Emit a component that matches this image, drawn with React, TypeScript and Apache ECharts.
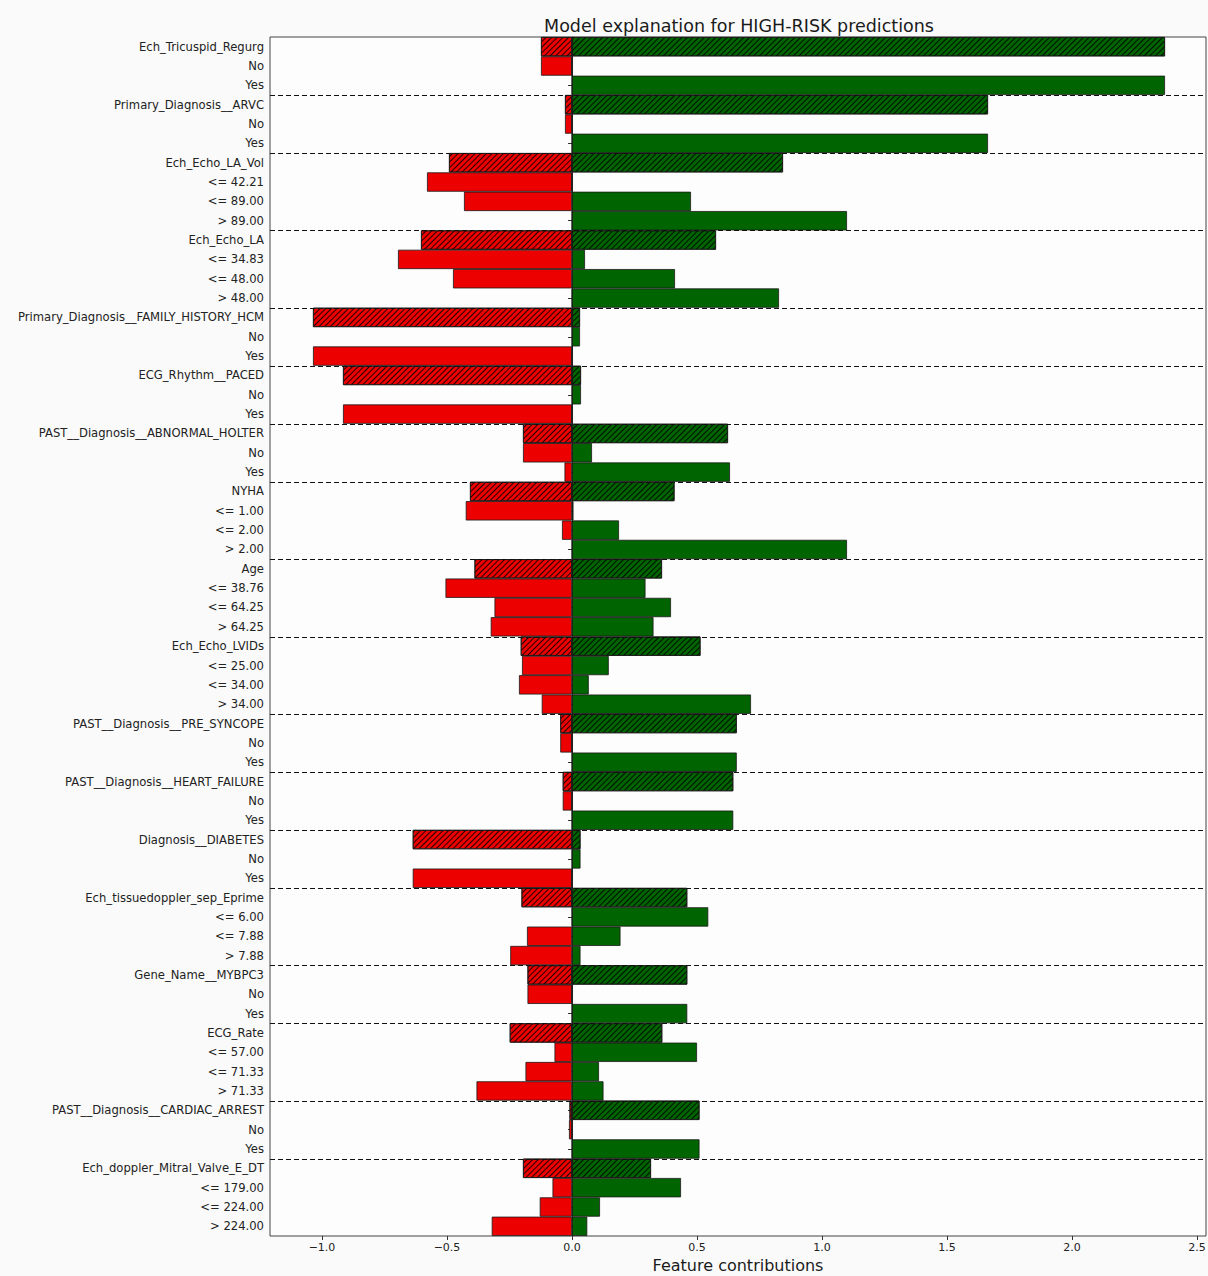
import React, { useEffect, useRef } from 'react';
import * as echarts from 'echarts';

// Row labels, top to bottom: each feature name followed by its value bins.
const rowLabels = [
  'Ech_Tricuspid_Regurg', 'No', 'Yes',
  'Primary_Diagnosis__ARVC', 'No', 'Yes',
  'Ech_Echo_LA_Vol', '<= 42.21', '<= 89.00', '> 89.00',
  'Ech_Echo_LA', '<= 34.83', '<= 48.00', '> 48.00',
  'Primary_Diagnosis__FAMILY_HISTORY_HCM', 'No', 'Yes',
  'ECG_Rhythm__PACED', 'No', 'Yes',
  'PAST__Diagnosis__ABNORMAL_HOLTER', 'No', 'Yes',
  'NYHA', '<= 1.00', '<= 2.00', '> 2.00',
  'Age', '<= 38.76', '<= 64.25', '> 64.25',
  'Ech_Echo_LVIDs', '<= 25.00', '<= 34.00', '> 34.00',
  'PAST__Diagnosis__PRE_SYNCOPE', 'No', 'Yes',
  'PAST__Diagnosis__HEART_FAILURE', 'No', 'Yes',
  'Diagnosis__DIABETES', 'No', 'Yes',
  'Ech_tissuedoppler_sep_Eprime', '<= 6.00', '<= 7.88', '> 7.88',
  'Gene_Name__MYBPC3', 'No', 'Yes',
  'ECG_Rate', '<= 57.00', '<= 71.33', '> 71.33',
  'PAST__Diagnosis__CARDIAC_ARREST', 'No', 'Yes',
  'Ech_doppler_Mitral_Valve_E_DT', '<= 179.00', '<= 224.00', '> 224.00',
];

// Contributions pushing away from the HIGH-RISK class (red, left of zero).
const negativeContrib = [
  -0.124, -0.124, 0,
  -0.028, -0.028, 0,
  -0.492, -0.58, -0.432, 0,
  -0.604, -0.696, -0.476, 0,
  -1.036, 0, -1.036,
  -0.916, 0, -0.916,
  -0.196, -0.196, -0.03,
  -0.408, -0.425, -0.04, 0,
  -0.39, -0.506, -0.31, -0.325,
  -0.205, -0.2, -0.212, -0.121,
  -0.047, -0.047, 0,
  -0.037, -0.037, 0,
  -0.637, 0, -0.637,
  -0.202, 0, -0.18, -0.247,
  -0.178, -0.178, 0,
  -0.249, -0.07, -0.186, -0.382,
  -0.01, -0.012, 0,
  -0.196, -0.078, -0.129, -0.321,
];

// Contributions pushing towards the HIGH-RISK class (green, right of zero).
const positiveContrib = [
  2.372, 0, 2.372,
  1.664, 0, 1.664,
  0.844, 0, 0.476, 1.1,
  0.576, 0.052, 0.412, 0.828,
  0.032, 0.032, 0,
  0.036, 0.036, 0,
  0.624, 0.08, 0.632,
  0.41, 0.006, 0.188, 1.1,
  0.36, 0.294, 0.396, 0.326,
  0.514, 0.147, 0.067, 0.716,
  0.659, 0, 0.659,
  0.645, 0, 0.645,
  0.034, 0.034, 0,
  0.461, 0.545, 0.194, 0.034,
  0.461, 0, 0.461,
  0.361, 0.5, 0.108, 0.126,
  0.51, 0, 0.51,
  0.316, 0.436, 0.112, 0.061,
];

// Indices of the feature-name rows (drawn hatched, each opening a group).
const featureRows = [0, 3, 6, 10, 14, 17, 20, 23, 27, 31, 35, 38, 41, 44, 48, 51, 55, 58];

const FONT = '"DejaVu Sans", sans-serif';

export default function App() {
  const ref = useRef<HTMLDivElement>(null);

  useEffect(() => {
    const chart = echarts.init(ref.current!, null, { renderer: 'svg' });
    const headers = new Set(featureRows);

    // "////" hatching for the feature-name rows
    const hatch = {
      symbol: 'rect',
      symbolSize: 1,
      color: 'rgba(0,0,0,0.85)',
      dashArrayX: [1, 0],
      dashArrayY: [1, 3],
      rotation: -Math.PI / 4,
    };

    const toItems = (vals: number[]) =>
      vals.map((v, i) => (headers.has(i) ? { value: v, itemStyle: { decal: hatch } } : v));

    const separators = featureRows.filter((i) => i > 0).map((i) => [0, i]);

    const barStyle = (color: string) => ({
      color,
      borderColor: '#1a1a1a',
      borderWidth: 0.8,
    });

    chart.setOption({
      animation: false,
      backgroundColor: '#fafafa',
      textStyle: { fontFamily: FONT },
      graphic: [
        {
          type: 'text',
          x: 739,
          y: 26,
          style: {
            text: 'Model explanation for HIGH-RISK predictions',
            align: 'center',
            verticalAlign: 'middle',
            fontSize: 17.5,
            fontFamily: FONT,
            fill: '#1a1a1a',
          },
        },
      ],
      grid: {
        left: 270,
        right: 2,
        top: 37,
        bottom: 40,
        outerBoundsMode: 'none',
        show: true,
        backgroundColor: '#fdfdfd',
        borderColor: '#444',
        borderWidth: 1,
      },
      xAxis: {
        type: 'value',
        min: -1.208,
        max: 2.536,
        splitNumber: 7,
        name: 'Feature contributions',
        nameLocation: 'middle',
        nameGap: 19,
        nameTextStyle: { fontSize: 16, color: '#1a1a1a', fontFamily: FONT },
        axisLine: { lineStyle: { color: '#333', width: 1 } },
        axisTick: { show: true, length: 4, lineStyle: { color: '#333' } },
        splitLine: { show: false },
        axisLabel: {
          fontSize: 11,
          color: '#222',
          fontFamily: FONT,
          margin: 6,
          showMinLabel: false,
          showMaxLabel: false,
          formatter: (v: number) => v.toFixed(1).replace('-', '\u2212'),
        },
      },
      yAxis: {
        type: 'category',
        data: rowLabels,
        inverse: true,
        axisLine: { lineStyle: { color: '#333', width: 1 } },
        axisTick: { show: true, alignWithLabel: true, length: 4, lineStyle: { color: '#333' } },
        axisLabel: {
          interval: 0,
          fontSize: 11.6,
          color: '#222',
          fontFamily: FONT,
          margin: 6,
        },
        splitLine: { show: false },
      },
      series: [
        {
          type: 'bar',
          name: 'negative',
          data: toItems(negativeContrib),
          barWidth: '100%',
          barGap: '-100%',
          itemStyle: barStyle('#ec0000'),
          silent: true,
        },
        {
          type: 'bar',
          name: 'positive',
          data: toItems(positiveContrib),
          barWidth: '100%',
          barGap: '-100%',
          itemStyle: barStyle('#006400'),
          silent: true,
        },
        {
          type: 'custom',
          name: 'group separators',
          data: separators,
          encode: { x: 0, y: 1 },
          silent: true,
          z: 5,
          renderItem: (params: any, api: any) => {
            const idx = api.value(1);
            const c = api.coord([0, idx]);
            const band = api.size([0, 1])[1];
            const y = Math.round(c[1] - band / 2) + 0.5;
            const cs = params.coordSys;
            return {
              type: 'line',
              shape: { x1: cs.x, y1: y, x2: cs.x + cs.width, y2: y },
              style: { stroke: '#111', lineWidth: 1.2, lineDash: [5, 3] },
            };
          },
        },
      ],
    });

    return () => chart.dispose();
  }, []);

  return (
    <div
      ref={ref}
      style={{ position: 'absolute', left: 0, top: 0, width: 1208, height: 1276 }}
    />
  );
}
